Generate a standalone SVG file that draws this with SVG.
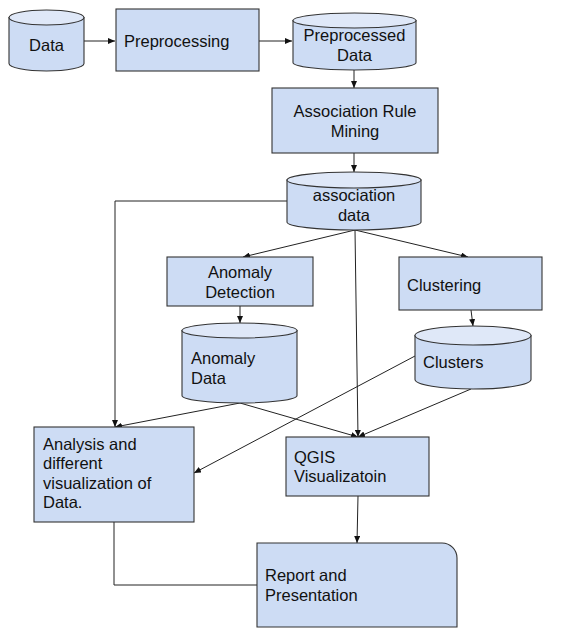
<svg xmlns="http://www.w3.org/2000/svg" width="579" height="633" viewBox="0 0 579 633">
<defs>
<marker id="ah" markerWidth="7" markerHeight="6" refX="7" refY="3" orient="auto" markerUnits="userSpaceOnUse">
<path d="M0,0 L7,3 L0,6 Z" fill="#111"/>
</marker>
<style>
.box{fill:#cddcf4;stroke:#333;stroke-width:1.1}
.cap{fill:#dfe8f8;stroke:#333;stroke-width:1.1}
.t{font-family:"Liberation Sans",Arial,sans-serif;font-size:16.5px;fill:#111}
.c{text-anchor:middle}
.ln{fill:none;stroke:#222;stroke-width:1}
</style>
</defs>
<rect width="579" height="633" fill="#fff"/>
<g id="connectors">
<path class="ln" d="M84,41 H115" marker-end="url(#ah)"/>
<path class="ln" d="M259,41 H292" marker-end="url(#ah)"/>
<path class="ln" d="M354,70 V88" marker-end="url(#ah)"/>
<path class="ln" d="M354,153 V172" marker-end="url(#ah)"/>
<path class="ln" d="M287,201 H115 V427" marker-end="url(#ah)"/>
<path class="ln" d="M355,230 L243,257" marker-end="url(#ah)"/>
<path class="ln" d="M355,230 L468,257" marker-end="url(#ah)"/>
<path class="ln" d="M355,230 L358,437" marker-end="url(#ah)"/>
<path class="ln" d="M240,306 V323" marker-end="url(#ah)"/>
<path class="ln" d="M471,310 L473,326" marker-end="url(#ah)"/>
<path class="ln" d="M240,403 L115,427" marker-end="url(#ah)"/>
<path class="ln" d="M240,403 L358,437" marker-end="url(#ah)"/>
<path class="ln" d="M415,356 L194,473" marker-end="url(#ah)"/>
<path class="ln" d="M471,389 L358,437" marker-end="url(#ah)"/>
<path class="ln" d="M358,496 L357,543" marker-end="url(#ah)"/>
<path class="ln" d="M114,522 V585 H257"/>
</g>
<g id="data">
<path class="box" d="M9,17.5 V63.5 A37.5,7.5 0 0 0 84,63.5 V17.5 Z"/>
<ellipse class="cap" cx="46.5" cy="17.5" rx="37.5" ry="7.5"/>
<text class="t c" x="46.5" y="51">Data</text>
</g>
<g id="preprocessing">
<rect class="box" x="116" y="9" width="143" height="62"/>
<text class="t" x="124" y="47">Preprocessing</text>
</g>
<g id="preprocessed-data">
<path class="box" d="M293,20.5 V62.5 A61.5,7.5 0 0 0 416,62.5 V20.5 Z"/>
<ellipse class="cap" cx="354.5" cy="20.5" rx="61.5" ry="7.5"/>
<text class="t c" x="354.5" y="41">Preprocessed</text>
<text class="t c" x="354.5" y="61">Data</text>
</g>
<g id="association-rule-mining">
<rect class="box" x="272" y="88" width="166" height="65"/>
<text class="t c" x="355" y="117">Association Rule</text>
<text class="t c" x="355" y="137">Mining</text>
</g>
<g id="association-data">
<path class="box" d="M287,180 V222 A67,8 0 0 0 421,222 V180 Z"/>
<ellipse class="cap" cx="354" cy="180" rx="67" ry="8"/>
<text class="t c" x="354" y="201">association</text>
<text class="t c" x="354" y="221">data</text>
</g>
<g id="anomaly-detection">
<rect class="box" x="167" y="257" width="146" height="49"/>
<text class="t c" x="240" y="278">Anomaly</text>
<text class="t c" x="240" y="298">Detection</text>
</g>
<g id="clustering">
<rect class="box" x="399" y="257" width="143" height="53"/>
<text class="t" x="407" y="291">Clustering</text>
</g>
<g id="anomaly-data">
<path class="box" d="M182,330.5 V395.5 A57.5,7.5 0 0 0 297,395.5 V330.5 Z"/>
<ellipse class="cap" cx="239.5" cy="330.5" rx="57.5" ry="7.5"/>
<text class="t" x="191" y="364">Anomaly</text>
<text class="t" x="191" y="384">Data</text>
</g>
<g id="clusters">
<path class="box" d="M415,335.5 V379.5 A58,9.5 0 0 0 531,379.5 V335.5 Z"/>
<ellipse class="cap" cx="473" cy="335.5" rx="58" ry="9.5"/>
<text class="t" x="423" y="368">Clusters</text>
</g>
<g id="analysis">
<rect class="box" x="34" y="427" width="160" height="95"/>
<text class="t" x="43" y="450">Analysis and</text>
<text class="t" x="43" y="469">different</text>
<text class="t" x="43" y="489">visualization of</text>
<text class="t" x="43" y="508">Data.</text>
</g>
<g id="qgis">
<rect class="box" x="286" y="437" width="143" height="59"/>
<text class="t" x="294" y="463">QGIS</text>
<text class="t" x="294" y="482">Visualizatoin</text>
</g>
<g id="report">
<path class="box" d="M257,543 H442 A15,15 0 0 1 457,558 V627 H257 Z"/>
<text class="t" x="265" y="581">Report and</text>
<text class="t" x="265" y="601">Presentation</text>
</g>
</svg>
